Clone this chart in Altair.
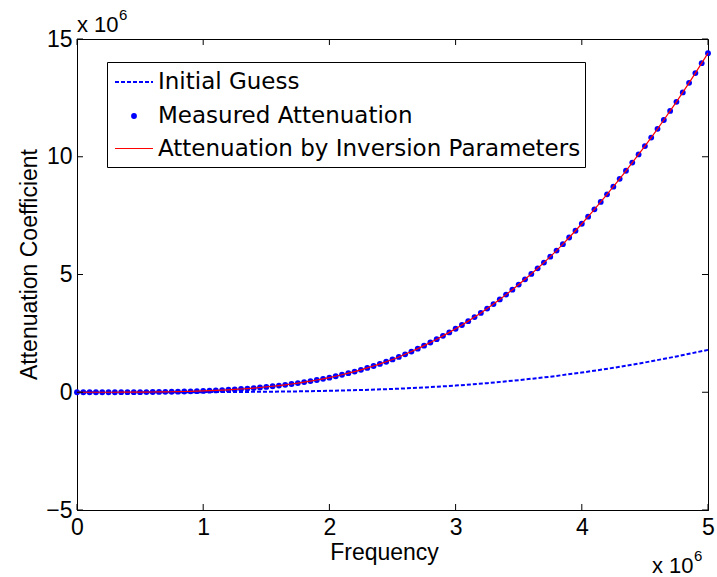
import altair as alt
import pandas as pd

# ---- data (values in units of 10^6, as displayed) ----
freq = [0.00, 0.05, 0.10, 0.15, 0.20, 0.25, 0.30, 0.35, 0.40, 0.45,
        0.50, 0.55, 0.60, 0.65, 0.70, 0.75, 0.80, 0.85, 0.90, 0.95,
        1.00, 1.05, 1.10, 1.15, 1.20, 1.25, 1.30, 1.35, 1.40, 1.45,
        1.50, 1.55, 1.60, 1.65, 1.70, 1.75, 1.80, 1.85, 1.90, 1.95,
        2.00, 2.05, 2.10, 2.15, 2.20, 2.25, 2.30, 2.35, 2.40, 2.45,
        2.50, 2.55, 2.60, 2.65, 2.70, 2.75, 2.80, 2.85, 2.90, 2.95,
        3.00, 3.05, 3.10, 3.15, 3.20, 3.25, 3.30, 3.35, 3.40, 3.45,
        3.50, 3.55, 3.60, 3.65, 3.70, 3.75, 3.80, 3.85, 3.90, 3.95,
        4.00, 4.05, 4.10, 4.15, 4.20, 4.25, 4.30, 4.35, 4.40, 4.45,
        4.50, 4.55, 4.60, 4.65, 4.70, 4.75, 4.80, 4.85, 4.90, 4.95,
        5.00]

measured = [0.000, 0.000, 0.000, 0.000, 0.000, 0.000, 0.001, 0.002, 0.002, 0.004,
            0.005, 0.007, 0.010, 0.013, 0.016, 0.021, 0.026, 0.032, 0.039, 0.047,
            0.056, 0.066, 0.078, 0.091, 0.105, 0.121, 0.138, 0.157, 0.178, 0.201,
            0.226, 0.254, 0.284, 0.316, 0.351, 0.389, 0.430, 0.473, 0.519, 0.569,
            0.621, 0.680, 0.742, 0.809, 0.879, 0.953, 1.032, 1.116, 1.204, 1.296,
            1.393, 1.499, 1.611, 1.728, 1.851, 1.979, 2.113, 2.253, 2.395, 2.542,
            2.695, 2.854, 3.020, 3.191, 3.370, 3.554, 3.744, 3.942, 4.146, 4.356,
            4.573, 4.796, 5.026, 5.263, 5.506, 5.759, 6.015, 6.288, 6.571, 6.858,
            7.154, 7.457, 7.766, 8.083, 8.403, 8.730, 9.063, 9.405, 9.752, 10.099,
            10.454, 10.814, 11.185, 11.561, 11.946, 12.333, 12.733, 13.140, 13.551, 13.975,
            14.400]

fitted = [0.000, 0.000, 0.000, 0.000, 0.000, 0.000, 0.001, 0.002, 0.002, 0.004,
          0.005, 0.007, 0.010, 0.013, 0.016, 0.021, 0.026, 0.032, 0.039, 0.047,
          0.056, 0.066, 0.078, 0.091, 0.105, 0.121, 0.138, 0.157, 0.178, 0.201,
          0.226, 0.254, 0.284, 0.316, 0.351, 0.389, 0.430, 0.473, 0.519, 0.569,
          0.621, 0.680, 0.742, 0.809, 0.879, 0.953, 1.032, 1.116, 1.204, 1.296,
          1.393, 1.499, 1.611, 1.728, 1.851, 1.979, 2.113, 2.253, 2.395, 2.542,
          2.695, 2.854, 3.020, 3.191, 3.370, 3.554, 3.744, 3.942, 4.146, 4.356,
          4.573, 4.796, 5.026, 5.263, 5.506, 5.759, 6.015, 6.288, 6.571, 6.858,
          7.154, 7.457, 7.766, 8.083, 8.403, 8.730, 9.063, 9.405, 9.752, 10.099,
          10.454, 10.814, 11.185, 11.561, 11.946, 12.333, 12.733, 13.140, 13.551, 13.975,
          14.400]

guess_freq = [0.00, 0.25, 0.50, 0.75, 1.00, 1.25, 1.50, 1.75, 2.00, 2.25, 2.50,
              2.75, 3.00, 3.25, 3.50, 3.75, 4.00, 4.25, 4.50, 4.75, 5.00]
guess_values = [0.000, 0.000, 0.0004, 0.0016, 0.005, 0.011, 0.021, 0.037, 0.061, 0.095, 0.140,
                0.202, 0.282, 0.386, 0.513, 0.661, 0.834, 1.036, 1.265, 1.520, 1.800]

legend_labels = ["Initial Guess", "Measured Attenuation", "Attenuation by Inversion Parameters"]
x_ticks = [0, 1, 2, 3, 4, 5]
y_ticks = [-5, 0, 5, 10, 15]
x_title = "Frequency"
y_title = "Attenuation Coefficient"
exp_base = "x 10"
exp_power = "6"

# ---- layout / style ----
W, H = 631, 471
BLUE = "#0000FF"
RED = "#FF0000"
FONT = "Liberation Sans"
LFONT = "DejaVu Sans"
DOT = 34

df_meas = pd.DataFrame({"f": freq, "v": measured, "fit": fitted})
df_guess = pd.DataFrame({"f": guess_freq, "v": guess_values})
df_xt = pd.DataFrame({"t": x_ticks})
df_yt = pd.DataFrame({"t": y_ticks})
one = pd.DataFrame({"k": [0]})

xscale = alt.Scale(domain=[0, 5], nice=False, zero=False)
yscale = alt.Scale(domain=[-5, 15], nice=False, zero=False)

xaxis = alt.Axis(values=x_ticks, format="d", title=x_title, ticks=False, tickSize=0, grid=False,
                 labelPadding=6, labelFontSize=23, labelFont=FONT, labelColor="black",
                 labelFlush=False, labelOverlap=False,
                 domainColor="black", domainWidth=1,
                 titleFont=FONT, titleFontSize=23, titleFontWeight="normal", titleColor="black",
                 titleX=307, titleY=49, titleBaseline="alphabetic", titleAlign="center")
yaxis = alt.Axis(values=y_ticks, format="d", title=y_title, ticks=False, tickSize=0, grid=False,
                 labelPadding=5, labelFontSize=23, labelFont=FONT, labelColor="black",
                 labelFlush=False, labelOverlap=False,
                 domainColor="black", domainWidth=1,
                 titleFont=FONT, titleFontSize=23, titleFontWeight="normal", titleColor="black",
                 titleAngle=270, titleX=-41, titleY=225, titleBaseline="alphabetic",
                 titleAlign="center")

guess = alt.Chart(df_guess).mark_line(color=BLUE, strokeDash=[4, 2], strokeWidth=2).encode(
    x=alt.X("f:Q", scale=xscale, axis=xaxis),
    y=alt.Y("v:Q", scale=yscale, axis=yaxis),
)
meas = alt.Chart(df_meas).mark_point(filled=True, color=BLUE, size=DOT, opacity=1).encode(
    x=alt.X("f:Q", scale=xscale), y=alt.Y("v:Q", scale=yscale)
)
fit_line = alt.Chart(df_meas).mark_line(color=RED, strokeWidth=1.2).encode(
    x=alt.X("f:Q", scale=xscale), y=alt.Y("fit:Q", scale=yscale)
)

# inward ticks on all four sides
tick_len = 6
xt_bottom = alt.Chart(df_xt).mark_rule(color="black", strokeWidth=1).encode(
    x=alt.X("t:Q", scale=xscale), y=alt.value(H), y2=alt.value(H - tick_len))
xt_top = alt.Chart(df_xt).mark_rule(color="black", strokeWidth=1).encode(
    x=alt.X("t:Q", scale=xscale), y=alt.value(0), y2=alt.value(tick_len))
yt_left = alt.Chart(df_yt).mark_rule(color="black", strokeWidth=1).encode(
    y=alt.Y("t:Q", scale=yscale), x=alt.value(0), x2=alt.value(tick_len))
yt_right = alt.Chart(df_yt).mark_rule(color="black", strokeWidth=1).encode(
    y=alt.Y("t:Q", scale=yscale), x=alt.value(W), x2=alt.value(W - tick_len))

# legend (manual, MATLAB style)
leg_box = alt.Chart(one).mark_rect(fill="white", stroke="black", strokeWidth=1).encode(
    x=alt.value(30.5), x2=alt.value(508.5), y=alt.value(23.5), y2=alt.value(128.5))
leg_l1 = alt.Chart(one).mark_rule(color=BLUE, strokeDash=[4, 2], strokeWidth=2).encode(
    x=alt.value(38), x2=alt.value(76), y=alt.value(43))
leg_l2 = alt.Chart(one).mark_point(filled=True, color=BLUE, size=DOT, opacity=1).encode(
    x=alt.value(57), y=alt.value(77))
leg_l3 = alt.Chart(one).mark_rule(color=RED, strokeWidth=1.2).encode(
    x=alt.value(38), x2=alt.value(76), y=alt.value(109.5))
leg_texts = []
for lab, yb in zip(legend_labels, [50, 84, 117]):
    leg_texts.append(
        alt.Chart(one).mark_text(align="left", baseline="alphabetic", font=LFONT,
                                 fontSize=23, color="black").encode(
            x=alt.value(81), y=alt.value(yb), text=alt.value(lab)))

# "x 10^6" exponent annotations
def expo(xb, yb):
    base = alt.Chart(one).mark_text(align="left", baseline="alphabetic", font=FONT,
                                    fontSize=22, color="black").encode(
        x=alt.value(xb), y=alt.value(yb), text=alt.value(exp_base))
    pw = alt.Chart(one).mark_text(align="left", baseline="alphabetic", font=FONT,
                                  fontSize=15, color="black").encode(
        x=alt.value(xb + 42), y=alt.value(yb - 12), text=alt.value(exp_power))
    return [base, pw]

annots = expo(0, -7) + expo(575, 534)

chart = alt.layer(
    guess, meas, fit_line,
    xt_bottom, xt_top, yt_left, yt_right,
    leg_box, leg_l1, leg_l2, leg_l3, *leg_texts,
    *annots,
).properties(
    width=W, height=H,
    autosize=alt.AutoSizeParams(type="none"),
    padding={"left": 77, "top": 39, "right": 9, "bottom": 67},
    background="white",
).configure_view(stroke="black", strokeWidth=1)

chart.save("out.html", embed_options={"renderer": "svg", "actions": False})
